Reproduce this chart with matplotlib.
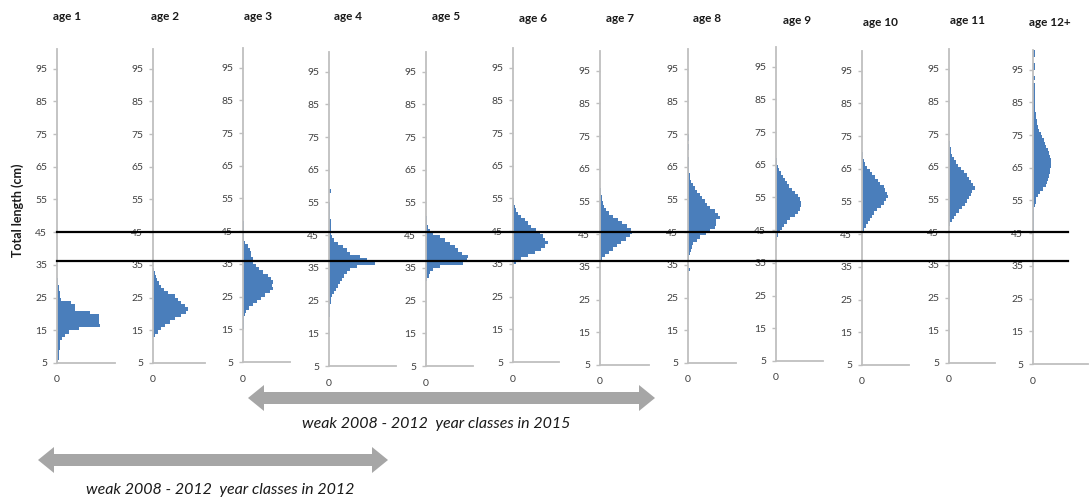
import matplotlib.pyplot as plt
from matplotlib import transforms
from matplotlib.patches import Polygon

plt.rcParams['font.family'] = ['Lato', 'DejaVu Sans']

# length frequency per age group, 1 cm bins starting at the given length
age1_start = 5
age1 = [1, 1.5, 2, 2, 2.5, 3, 3, 5, 8, 12, 22, 43, 42, 42, 42, 33, 18, 18, 14, 4,
        3, 2.5, 2, 1.5, 1, 0.5]
age2_start = 13
age2 = [2, 5, 8, 12, 17, 22, 28, 33, 35, 32, 28, 25, 22, 15, 11, 8, 6, 4, 3, 2, 0.5]
age3_start = 15
age3 = [0.5, 0.5, 1, 1, 2, 3, 6, 10, 14, 18, 22, 27, 30, 29, 30, 28, 25, 20, 16, 13,
        10, 10, 8, 8, 7, 5, 2, 1, 1, 1, 1, 1, 1]
age4_start = 20
age4 = [1, 1, 1, 1, 1.5, 2, 3, 5, 7, 9, 11, 13, 15, 18, 21, 28, 46, 38, 31, 21,
        18, 14, 9, 5, 3, 1.5, 1.5, 1.5, 1.5, 1.5, 1.2, 1.2, 1.2, 1, 1, 0, 0, 0, 1.5]
age5_start = 31
age5 = [1, 2.5, 4, 7, 14, 37, 41, 42, 36, 32, 29, 24, 19, 14, 7, 4, 2, 1, 1, 1]
age6_start = 35
age6 = [3, 8, 15, 22, 28, 32, 35, 32, 30, 27, 23, 18, 15, 12, 8, 5, 3, 1.5, 1, 1]
age7_start = 37
age7 = [2, 5, 9, 13, 17, 21, 26, 30, 32, 31, 27, 22, 18, 13, 9, 6, 4, 3, 2, 1.5, 1, 1]
age8_start = 33
age8 = [1.5, 0, 0, 1, 1, 2, 3, 4, 5, 9, 12, 18, 22, 27, 28, 28, 32, 30, 27, 22,
        19, 17, 14, 12, 9, 7, 5, 3, 2, 1.5, 1, 1, 1, 1, 1, 0, 0, 1, 1, 0, 1, 1]
age9_start = 42
age9 = [1, 2, 4, 6, 8, 11, 14, 19, 22, 24, 25, 25, 24, 22, 19, 16, 13, 11, 9, 7,
        5, 3.5, 2.5, 1.5, 1]
age10_start = 46
age10 = [2, 4, 6, 8, 10, 12, 15, 19, 22, 24, 26, 25, 23, 22, 18, 16, 13, 10, 8, 5,
         3, 2, 1, 1]
age11_start = 47
age11 = [1, 3, 5, 7, 10, 13, 16, 18, 20, 22, 23, 26, 24, 22, 20, 18, 15, 12, 9, 7,
         5, 3, 2, 1.5, 1, 1]
age12_start = 45
age12 = [1, 1, 1, 1, 1, 1, 1, 1, 2, 2.5, 3, 5, 7, 10, 13, 14, 15, 16, 17,
         17, 18, 18, 18, 17, 16, 15, 13, 12, 11, 9, 8, 6, 5, 4, 3.5, 3, 2.5, 2, 1.5,
         1.5, 1.5, 1.5, 1.5, 1.5, 1.5, 1.5, 0, 1.5, 0, 0, 1.5, 1.5, 0, 0, 1.5, 1.5]

titles = ['age 1', 'age 2', 'age 3', 'age 4', 'age 5', 'age 6', 'age 7', 'age 8',
          'age 9', 'age 10', 'age 11', 'age 12+']
series = [age1, age2, age3, age4, age5, age6, age7, age8, age9, age10, age11, age12]
starts = [age1_start, age2_start, age3_start, age4_start, age5_start, age6_start,
          age7_start, age8_start, age9_start, age10_start, age11_start, age12_start]
yticks = [5, 15, 25, 35, 45, 55, 65, 75, 85, 95]
band = [36.3, 45.2]

# panel layout in pixels
W, H = 1089, 499
left_px = [57, 153, 243, 329, 426, 513, 600, 688, 776, 862, 949, 1033]
base_px = [363, 363, 362, 366, 366, 362, 365, 363, 361, 365, 363, 364]
width_px = [58, 52, 47, 67, 47, 46, 49, 48, 47, 47, 46, 55]
title_px = [(67, 16), (165, 16), (258, 16), (348, 16), (446, 17), (533, 18),
            (620, 19), (707, 19), (797, 20), (880, 22), (968, 21), (1050, 23)]
px_per_cm = 3.27
ymin, ymax = 5, 101

fig = plt.figure(figsize=(W / 100, H / 100), dpi=100)
grey = '#bfbfbf'
axes = []
for i in range(12):
    h = (ymax - ymin) * px_per_cm
    ax = fig.add_axes([left_px[i] / W, 1 - base_px[i] / H, width_px[i] / W, h / H])
    lengths = [starts[i] + k for k in range(len(series[i]))]
    ax.barh(lengths, series[i], height=1, align='edge', color='#4a7ebb', linewidth=0)
    ax.set_xlim(0, width_px[i])
    ax.set_ylim(ymin, ymax)
    ax.set_yticks(yticks)
    ax.set_xticks([0])
    for s in ['top', 'right']:
        ax.spines[s].set_visible(False)
    for s in ['left', 'bottom']:
        ax.spines[s].set_color(grey)
        ax.spines[s].set_linewidth(1.3)
    ax.tick_params(axis='y', length=3, width=1, color=grey, labelsize=7.5,
                   labelcolor='#404040', pad=4)
    ax.tick_params(axis='x', length=0, labelsize=7.5, labelcolor='#404040', pad=9)
    ax.patch.set_alpha(0)
    tx, ty = title_px[i]
    fig.text(tx / W, 1 - ty / H, titles[i], ha='center', va='center',
             fontsize=8.5, fontweight='bold', color='#1a1a1a')
    axes.append(ax)

fig.text(18 / W, 1 - 210 / H, 'Total length (cm)', rotation=90, ha='center',
         va='center', fontsize=9, fontweight='bold', color='#1a1a1a')

# reference band across all panels
tr = transforms.blended_transform_factory(fig.transFigure, axes[0].transData)
for y in band:
    fig.add_artist(plt.Line2D([57 / W, 1068 / W], [y, y], transform=tr,
                              color='black', linewidth=1.6, zorder=5))

# overlay in pixel coordinates for the year-class arrows
over = fig.add_axes([0, 0, 1, 1])
over.set_xlim(0, W)
over.set_ylim(H, 0)
over.axis('off')
over.patch.set_alpha(0)


def double_arrow(x0, x1, y, shaft=12, head=26, hl=16):
    s, h = shaft / 2, head / 2
    pts = [(x0, y), (x0 + hl, y - h), (x0 + hl, y - s), (x1 - hl, y - s),
           (x1 - hl, y - h), (x1, y), (x1 - hl, y + h), (x1 - hl, y + s),
           (x0 + hl, y + s), (x0 + hl, y + h)]
    over.add_patch(Polygon(pts, closed=True, color='#a6a6a6', linewidth=0))


double_arrow(248, 655, 398)
over.text(436, 424, 'weak 2008 - 2012  year classes in 2015', ha='center',
          va='center', fontsize=11.5, style='italic', color='#1a1a1a')
double_arrow(38, 388, 460)
over.text(220, 490, 'weak 2008 - 2012  year classes in 2012', ha='center',
          va='center', fontsize=11.5, style='italic', color='#1a1a1a')

fig.savefig('out.png', dpi=100)
